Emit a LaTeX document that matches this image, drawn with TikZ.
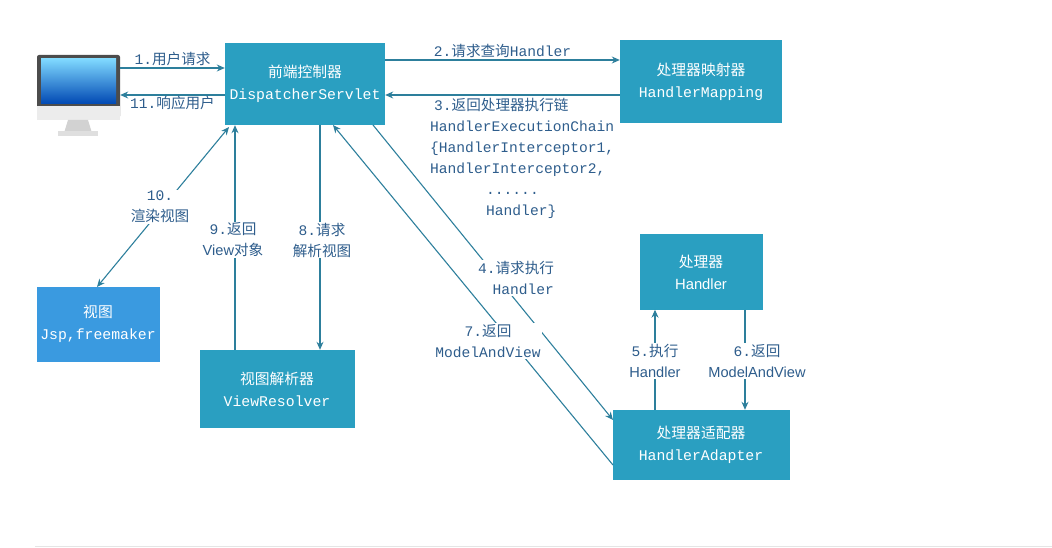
\documentclass[tikz,border=0pt]{standalone}
\usepackage{fontspec}
\setmainfont{Liberation Mono}
\newfontfamily\cjk{Noto Sans CJK SC}
\newfontfamily\ssf{Liberation Sans}
\usetikzlibrary{arrows.meta}
\definecolor{boxc}{HTML}{2A9FC1}
\definecolor{viewc}{HTML}{3A9AE0}
\definecolor{linec}{HTML}{2D7F9C}
\definecolor{labc}{HTML}{2E5D8C}
\tikzset{
 box/.style={fill=boxc,text=white,draw=none,inner sep=0pt,align=center,font=\fontsize{14.8}{22}\selectfont},
 conn/.style={draw=linec,line width=1.1pt,-{Stealth[length=8pt,width=7pt]}},
 lab/.style={text=labc,fill=white,inner sep=1pt,align=center,font=\fontsize{14.6}{21}\selectfont},
}
\begin{document}
\begin{tikzpicture}[x=1pt,y=-1pt]
\useasboundingbox (0,0) rectangle (1052,548);
\draw[gray!20,line width=1pt] (35,546) -- (1052,546);
% boxes
\node[box,minimum width=160,minimum height=82] (ds) at (305,84) {{\cjk 前端控制器}\\DispatcherServlet};
\node[box,minimum width=162,minimum height=83] (hm) at (701,82) {{\cjk 处理器映射器}\\HandlerMapping};
\node[box,minimum width=123,minimum height=75] (h) at (701,272) {{\cjk 处理器}\\{\ssf Handler}};
\node[box,minimum width=177,minimum height=70] (ha) at (701,445) {{\cjk 处理器适配器}\\HandlerAdapter};
\node[box,minimum width=155,minimum height=78] (vr) at (277,389) {{\cjk 视图解析器}\\ViewResolver};
\node[box,fill=viewc,minimum width=123,minimum height=75] (v) at (98,324) {{\cjk 视图}\\Jsp,freemaker};
% monitor
\node[minimum width=84,minimum height=80] (pc) at (78,95) {};
\fill[gray!60!black,rounded corners=2pt] (37,55) rectangle (120,118);
\fill[gray!15] (37,106) rectangle (120,120);
\shade[top color=blue!30!cyan!50,bottom color=blue!60!cyan!70!black] (41,59) rectangle (116,104);
\fill[gray!35] (68,120) -- (88,120) -- (92,133) -- (64,133) -- cycle;
\fill[gray!25] (58,131) rectangle (98,136);
% connectors
\draw[conn] (pc.east |- 0,68) -- node[lab,above=1pt,fill=none]{1.{\cjk 用户请求}} (ds.west |- 0,68);
\draw[conn] (ds.west |- 0,95) -- node[lab,below=0pt,fill=none]{11.{\cjk 响应用户}} (pc.east |- 0,95);
\draw[conn] (ds.east |- 0,60) -- node[lab,above=1pt,fill=none]{2.{\cjk 请求查询}Handler} (hm.west |- 0,60);
\draw[conn] (hm.west |- 0,95) -- (ds.east |- 0,95);
\node[lab,fill=none,align=left,anchor=north west] (l3) at (429,97) {\hspace*{4pt}3.{\cjk 返回处理器执行链}\\HandlerExecutionChain\\\{HandlerInterceptor1,\\HandlerInterceptor2,\\\hspace*{56pt}......\\\hspace*{56pt}Handler\}};
\coordinate (a4s) at (373,125);
\coordinate (a4e) at (613,420);
\draw[conn] (a4s) -- (a4e);
\node[lab,text width=92,align=right] at (508,278) {4.{\cjk 请求执行}\\Handler};
\coordinate (a7s) at (613,465);
\coordinate (a7e) at (333,125);
\draw[conn] (a7s) -- (a7e);
\node[lab] at (488,341) {7.{\cjk 返回}\\ModelAndView};
\coordinate (a10a) at (229,127);
\coordinate (a10b) at (97,287);
\draw[conn,{Stealth[length=8pt,width=7pt]}-{Stealth[length=8pt,width=7pt]}] (a10b) -- (a10a);
\node[lab] at (160,207) {10.\\{\cjk 渲染视图}};
\draw[conn] (vr.north -| 235,0) -- (ds.south -| 235,0);
\node[lab] at (233,240) {9.{\cjk 返回}\\{\ssf View}{\cjk 对象}};
\draw[conn] (ds.south -| 320,0) -- (vr.north -| 320,0);
\node[lab] at (322,240) {8.{\cjk 请求}\\{\cjk 解析视图}};
\draw[conn] (ha.north -| 655,0) -- (h.south -| 655,0);
\node[lab] at (655,361) {5.{\cjk 执行}\\{\ssf Handler}};
\draw[conn] (h.south -| 745,0) -- (ha.north -| 745,0);
\node[lab] at (757,361) {6.{\cjk 返回}\\{\ssf ModelAndView}};
\end{tikzpicture}
\end{document}
